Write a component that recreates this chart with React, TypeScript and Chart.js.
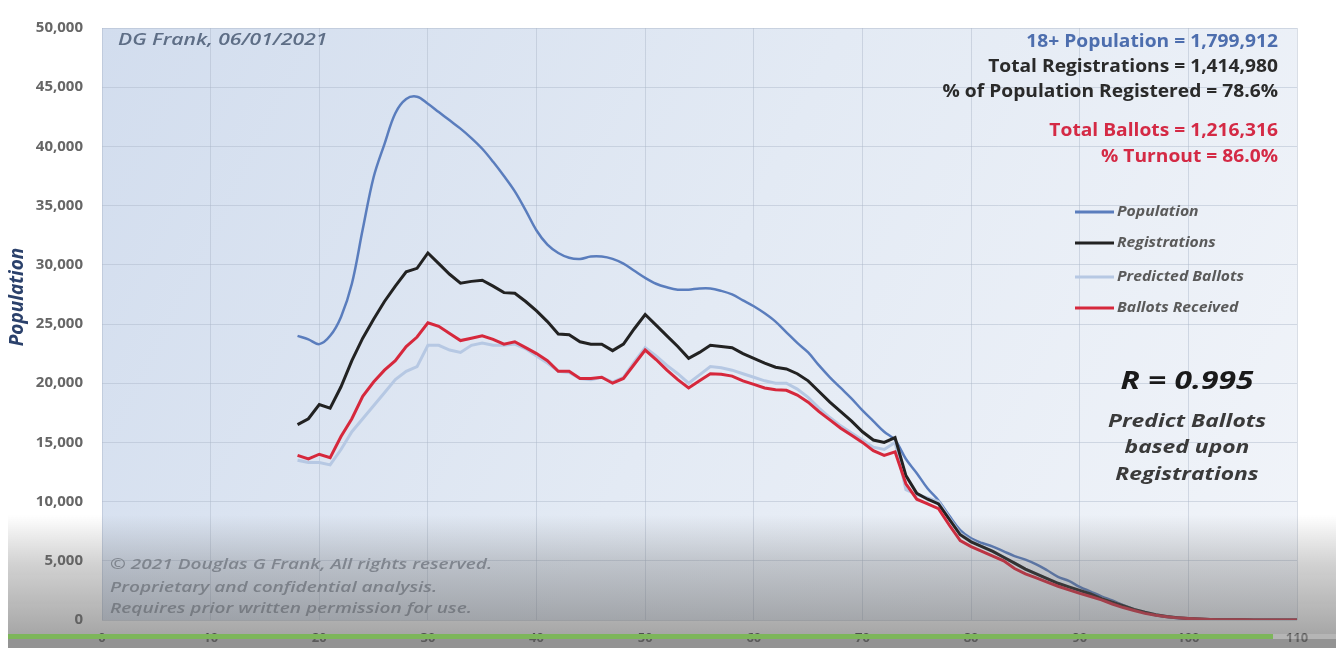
import React, { useEffect, useRef } from "react";
import { Chart, registerables } from "chart.js";

Chart.register(...registerables);

// ---- data ----
const ages = [
  18, 19, 20, 21, 22, 23, 24, 25, 26, 27,
  28, 29, 30, 31, 32, 33, 34, 35, 36, 37,
  38, 39, 40, 41, 42, 43, 44, 45, 46, 47,
  48, 49, 50, 51, 52, 53, 54, 55, 56, 57,
  58, 59, 60, 61, 62, 63, 64, 65, 66, 67,
  68, 69, 70, 71, 72, 73, 74, 75, 76, 77,
  78, 79, 80, 81, 82, 83, 84, 85, 86, 87,
  88, 89, 90, 91, 92, 93, 94, 95, 96, 97,
  98, 99, 100, 101, 102, 103, 104, 105, 106, 107,
  108, 109, 110,
];

const population = [
  24000, 23700, 23300, 24000, 25600, 28400, 33000, 37400, 40200, 42800,
  44000, 44200, 43600, 42900, 42200, 41500, 40700, 39800, 38700, 37500,
  36200, 34600, 32900, 31700, 31000, 30600, 30500, 30700, 30700, 30500,
  30100, 29500, 28900, 28400, 28100, 27900, 27900, 28000, 28000, 27800,
  27500, 27000, 26500, 25900, 25200, 24300, 23400, 22600, 21500, 20500,
  19600, 18700, 17700, 16800, 15900, 15200, 13600, 12400, 11100, 10100,
  8800, 7600, 6900, 6500, 6200, 5800, 5400, 5100, 4700, 4200,
  3650, 3300, 2800, 2400, 2000, 1650, 1250, 900, 600, 400,
  250, 150, 80, 50, 30, 20, 10, 5, 3, 2,
  1, 1, 0,
];

const registrations = [
  16500, 17000, 18200, 17900, 19700, 21900, 23800, 25400, 26900, 28200,
  29400, 29700, 31000, 30100, 29200, 28450, 28600, 28700, 28200, 27650,
  27600, 26900, 26100, 25200, 24150, 24100, 23500, 23300, 23300, 22750,
  23300, 24600, 25800, 24900, 24000, 23100, 22100, 22600, 23200, 23100,
  23000, 22500, 22100, 21700, 21350, 21200, 20800, 20200, 19300, 18400,
  17600, 16800, 15900, 15200, 15000, 15400, 12200, 10700, 10200, 9800,
  8500, 7200, 6600, 6200, 5800, 5300, 4800, 4300, 3900, 3500,
  3100, 2800, 2500, 2200, 1800, 1500, 1200, 900, 650, 450,
  300, 200, 120, 80, 50, 30, 20, 15, 10, 8,
  5, 3, 2,
];

const predictedBallots = [
  13500, 13300, 13300, 13100, 14400, 15900, 17000, 18100, 19200, 20300,
  21000, 21400, 23200, 23200, 22800, 22600, 23200, 23400, 23200, 23200,
  23300, 22900, 22300, 21700, 21000, 20900, 20400, 20300, 20500, 20100,
  20500, 21800, 23000, 22300, 21500, 20800, 20000, 20700, 21400, 21300,
  21100, 20800, 20500, 20200, 20000, 20000, 19500, 18800, 17900, 17100,
  16400, 15800, 15200, 14600, 14400, 15000, 11000, 10600, 10300, 10000,
  8600, 7300, 6700, 6200, 5800, 5300, 4800, 4300, 3900, 3500,
  3100, 2700, 2400, 2100, 1800, 1500, 1200, 900, 650, 450,
  300, 190, 120, 80, 50, 30, 20, 15, 10, 8,
  5, 3, 2,
];

const ballotsReceived = [
  13900, 13600, 14000, 13700, 15500, 17000, 18900, 20100, 21100, 21900,
  23100, 23900, 25100, 24800, 24200, 23600, 23800, 24000, 23700, 23300,
  23500, 23000, 22500, 21900, 21000, 21000, 20400, 20400, 20500, 20000,
  20400, 21600, 22800, 22000, 21100, 20300, 19600, 20200, 20800, 20750,
  20600, 20200, 19900, 19600, 19450, 19400, 19000, 18400, 17600, 16900,
  16200, 15600, 15000, 14300, 13900, 14200, 11500, 10200, 9800, 9400,
  8000, 6700, 6200, 5800, 5400, 5000, 4350, 3900, 3550, 3200,
  2850, 2550, 2250, 1980, 1700, 1350, 1050, 800, 560, 400,
  280, 180, 120, 80, 50, 30, 20, 15, 10, 8,
  5, 3, 2,
];

const yTickLabels = [
  "0", "5,000", "10,000", "15,000", "20,000", "25,000",
  "30,000", "35,000", "40,000", "45,000", "50,000",
];
const xTickLabels = ["0", "10", "20", "30", "40", "50", "60", "70", "80", "90", "100", "110"];

const seriesNames = ["Population", "Registrations", "Predicted Ballots", "Ballots Received"];
const seriesColors = ["#5a7dbd", "#222222", "#b6c8e3", "#d6283c"];

const statsLines = [
  { text: "18+ Population = 1,799,912", color: "#4d6eae" },
  { text: "Total Registrations = 1,414,980", color: "#2a2a2a" },
  { text: "% of Population Registered = 78.6%", color: "#2a2a2a" },
  { text: "Total Ballots = 1,216,316", color: "#d42a45" },
  { text: "% Turnout = 86.0%", color: "#d42a45" },
];
const noteLines = ["Predict Ballots", "based upon", "Registrations"];
const copyrightLines = [
  "© 2021 Douglas G Frank, All rights reserved.",
  "Proprietary and confidential analysis.",
  "Requires prior written permission for use.",
];

const FONT = "'Open Sans', 'Noto Sans', sans-serif";

const toPoints = (vals: number[]) => ages.map((a, i) => ({ x: a, y: vals[i] }));

function drawText(
  ctx: CanvasRenderingContext2D,
  text: string,
  x: number,
  y: number,
  align: CanvasTextAlign,
  font: string,
  color: string,
  sx: number
) {
  ctx.save();
  ctx.translate(x, y);
  ctx.scale(sx, 1);
  ctx.textAlign = align;
  ctx.textBaseline = "middle";
  ctx.font = font;
  ctx.fillStyle = color;
  ctx.fillText(text, 0, 0);
  ctx.restore();
}

const backgroundPlugin = {
  id: "plotBackground",
  beforeDraw(chart: any) {
    const { ctx, chartArea } = chart;
    const { left, top, right, bottom } = chartArea;
    ctx.save();
    const g = ctx.createLinearGradient(left, top, right, bottom);
    g.addColorStop(0, "#d2ddee");
    g.addColorStop(0.5, "#e3eaf4");
    g.addColorStop(1, "#f1f4f9");
    ctx.fillStyle = g;
    ctx.fillRect(left, top, right - left, bottom - top);
    ctx.restore();
  },
};

const textPlugin = {
  id: "annotations",
  afterDatasetsDraw(chart: any) {
    const ctx = chart.ctx as CanvasRenderingContext2D;
    ctx.save();

    // author / date
    drawText(ctx, "DG Frank, 06/01/2021", 118, 40, "left", `italic 600 17px ${FONT}`, "#5e6e86", 1.24);

    // stats block
    const statY = [42, 67, 92, 131, 157];
    statsLines.forEach((l, i) => {
      drawText(ctx, l.text, 1278, statY[i], "right", `bold 17px ${FONT}`, l.color, 1.13);
    });

    // legend
    const legY = [212, 243, 277, 308];
    seriesNames.forEach((name, i) => {
      ctx.strokeStyle = seriesColors[i];
      ctx.lineWidth = 3;
      ctx.beginPath();
      ctx.moveTo(1075, legY[i]);
      ctx.lineTo(1114, legY[i]);
      ctx.stroke();
      drawText(ctx, name, 1117, legY[i], "left", `italic bold 15px ${FONT}`, "#5a5a5a", 1.05);
    });

    // R value and note
    drawText(ctx, "R = 0.995", 1187, 382, "center", `italic bold 25px ${FONT}`, "#1a1a1a", 1.27);
    const noteY = [422, 448, 475];
    noteLines.forEach((t, i) =>
      drawText(ctx, t, 1187, noteY[i], "center", `italic bold 18px ${FONT}`, "#3a3a3a", 1.27)
    );

    // copyright
    const cY = [565, 588, 609];
    copyrightLines.forEach((t, i) =>
      drawText(ctx, t, 110, cY[i], "left", `italic 600 15px ${FONT}`, "rgba(135,143,156,0.95)", 1.27)
    );

    // y axis title
    ctx.save();
    ctx.translate(18, 297);
    ctx.rotate(-Math.PI / 2);
    ctx.textAlign = "center";
    ctx.textBaseline = "middle";
    ctx.fillStyle = "#2b416b";
    ctx.font = `italic bold 19px ${FONT}`;
    ctx.fillText("Population", 0, 0);
    ctx.restore();

    ctx.restore();
  },
};

const overlayPlugin = {
  id: "videoOverlay",
  afterDraw(chart: any) {
    const ctx = chart.ctx as CanvasRenderingContext2D;
    ctx.save();
    const g = ctx.createLinearGradient(0, 515, 0, 634);
    g.addColorStop(0, "rgba(95,95,95,0)");
    g.addColorStop(0.4, "rgba(95,95,95,0.28)");
    g.addColorStop(1, "rgba(95,95,95,0.55)");
    ctx.fillStyle = g;
    ctx.fillRect(8, 515, 1328, 119);
    ctx.fillStyle = "#7db65a";
    ctx.fillRect(8, 634, 1265, 5);
    ctx.fillStyle = "rgba(150,150,150,0.7)";
    ctx.fillRect(1273, 634, 63, 5);
    ctx.fillStyle = "rgba(105,105,105,0.72)";
    ctx.fillRect(8, 639, 1328, 9);
    ctx.restore();
  },
};

export default function App() {
  const ref = useRef<HTMLCanvasElement | null>(null);

  useEffect(() => {
    if (!ref.current) return;
    const seriesData = [population, registrations, predictedBallots, ballotsReceived];
    const orders = [3, 1, 2, 0];
    const widths = [2.5, 3, 3, 3];
    const tensions = [0.35, 0, 0, 0];
    const chart = new Chart(ref.current, {
      type: "line",
      data: {
        datasets: seriesData.map((vals, i) => ({
          label: seriesNames[i],
          data: toPoints(vals),
          borderColor: seriesColors[i],
          backgroundColor: seriesColors[i],
          borderWidth: widths[i],
          pointRadius: 0,
          tension: tensions[i],
          order: orders[i],
          fill: false,
        })),
      },
      options: {
        animation: false,
        responsive: false,
        maintainAspectRatio: false,
        layout: { padding: { top: 17, right: 39, left: 0, bottom: 0 } },
        plugins: {
          legend: { display: false },
          tooltip: { enabled: false },
        },
        scales: {
          x: {
            type: "linear",
            min: 0,
            max: 110,
            afterFit: (s: any) => {
              s.height = 26;
            },
            ticks: {
              stepSize: 10,
              padding: 10,
              color: "#3a3a3a",
              font: { family: FONT, size: 13, weight: "bold" },
              callback: (_v: any, i: number) => xTickLabels[i],
              maxRotation: 0,
            },
            grid: { color: "rgba(170,182,200,0.45)", drawTicks: false, lineWidth: 1 },
            border: { display: false },
          },
          y: {
            min: 0,
            max: 50000,
            afterFit: (s: any) => {
              s.width = 102;
            },
            ticks: {
              stepSize: 5000,
              padding: 19,
              color: "#666666",
              font: { family: FONT, size: 15, weight: "bold" },
              callback: (_v: any, i: number) => yTickLabels[i],
            },
            grid: { color: "rgba(170,182,200,0.45)", drawTicks: false, lineWidth: 1 },
            border: { display: false },
          },
        },
      },
      plugins: [backgroundPlugin, textPlugin, overlayPlugin],
    } as any);
    return () => chart.destroy();
  }, []);

  return (
    <div style={{ position: "fixed", left: 0, top: 0, width: 1336, height: 648, background: "#ffffff" }}>
      <canvas ref={ref} width={1336} height={648} style={{ width: 1336, height: 648, display: "block" }} />
    </div>
  );
}
